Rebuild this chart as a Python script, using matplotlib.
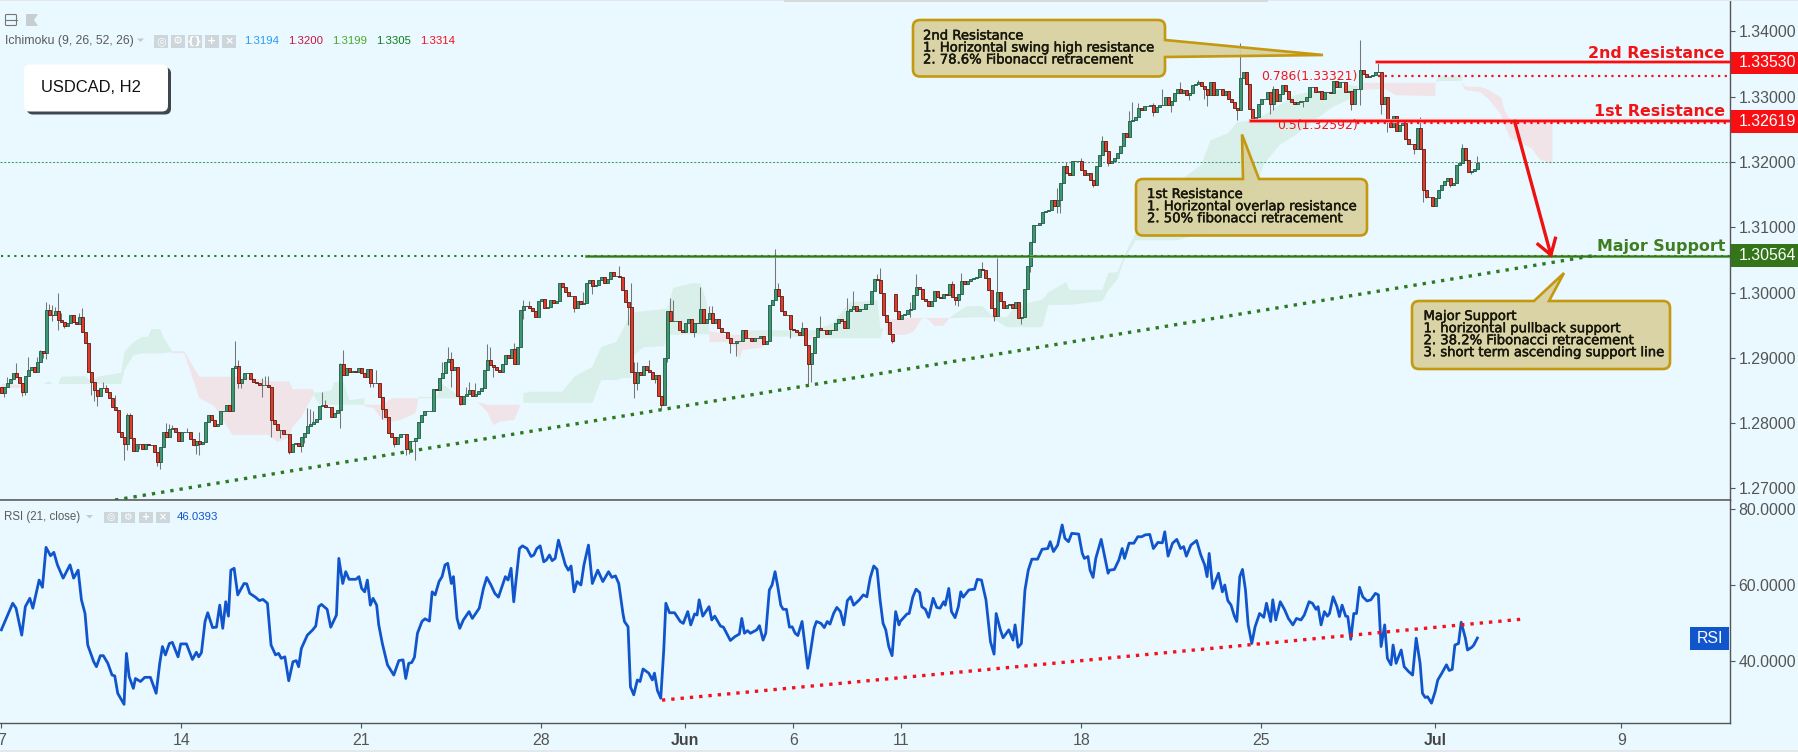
import matplotlib
matplotlib.use("Agg")
import matplotlib.pyplot as plt
import numpy as np
from matplotlib.path import Path
from matplotlib.patches import PathPatch, Rectangle, FancyBboxPatch
import matplotlib.patheffects as pe

# ---------- data (prices in pips: value / 10000) ----------
first_open = 12855
closes = [
12846,12855,12862,12868,12876,12871,12861,12848,12872,12881,12886,12878,12894,12911,12907,12973,12966,12965,12971,12958,
12955,12948,12954,12965,12955,12951,12963,12939,12922,12878,12863,12850,12842,12853,12854,12847,12839,12824,12820,12786,
12779,12768,12812,12777,12758,12768,12768,12761,12768,12767,12767,12755,12740,12763,12786,12778,12791,12792,12787,12773,
12786,12786,12786,12775,12767,12772,12768,12771,12801,12813,12805,12796,12799,12819,12819,12827,12819,12885,12888,12861,
12868,12877,12877,12868,12863,12861,12858,12858,12858,12855,12805,12798,12789,12789,12783,12784,12755,12768,12770,12765,
12779,12785,12795,12798,12801,12806,12826,12828,12825,12824,12809,12815,12820,12890,12873,12884,12879,12880,12879,12885,
12876,12871,12883,12862,12862,12862,12840,12822,12810,12785,12778,12768,12779,12783,12783,12760,12772,12772,12777,12801,
12812,12818,12818,12818,12852,12850,12869,12876,12894,12898,12881,12886,12842,12830,12841,12844,12850,12842,12845,12849,
12854,12881,12897,12889,12886,12882,12878,12891,12904,12900,12913,12891,12917,12973,12980,12979,12976,12972,12963,12987,
12990,12977,12978,12989,12984,12987,13015,13008,13001,12995,12995,12977,12987,12983,12984,13014,13019,13010,13011,13019,
13023,13015,13020,13031,13025,13025,13023,13004,12986,12978,12879,12862,12878,12873,12888,12881,12879,12868,12874,12841,
12827,12899,12972,12956,12957,12957,12942,12939,12953,12959,12940,12954,12953,12975,12954,12959,12969,12953,12959,12946,
12940,12939,12931,12922,12923,12925,12926,12943,12930,12931,12926,12931,12931,12934,12921,12926,12981,12988,13006,12994,
12972,12966,12966,12944,12943,12939,12935,12946,12920,12891,12908,12932,12946,12943,12942,12937,12943,12942,12954,12960,
12957,12946,12972,12975,12979,12971,12974,12975,12982,12982,13003,13020,13019,12999,12966,12955,12936,12926,12972,12960,
12965,12967,12973,12975,12996,13009,13005,12990,12987,12979,12987,13002,12993,12991,12997,12996,13013,12993,12989,12997,
13017,13013,13017,13020,13022,13023,13036,13034,13022,13004,12976,12964,13001,12987,12976,12981,12982,12976,12985,12961,
12963,13005,13040,13077,13103,13103,13106,13124,13125,13127,13142,13133,13142,13167,13193,13183,13180,13201,13201,13202,
13187,13180,13183,13172,13164,13193,13210,13232,13216,13199,13202,13206,13213,13224,13244,13238,13262,13264,13268,13282,
13280,13285,13285,13287,13277,13284,13287,13287,13299,13287,13294,13305,13311,13306,13310,13302,13305,13317,13320,13323,
13316,13311,13303,13322,13303,13311,13311,13302,13308,13296,13292,13283,13279,13328,13337,13319,13281,13261,13268,13288,
13296,13296,13307,13288,13311,13293,13304,13317,13308,13297,13291,13288,13291,13294,13294,13300,13314,13314,13307,13308,
13296,13307,13307,13305,13324,13314,13322,13322,13307,13309,13288,13311,13311,13340,13334,13330,13331,13333,13337,13337,
13288,13300,13263,13253,13270,13248,13256,13259,13235,13227,13227,13220,13252,13219,13157,13146,13146,13133,13144,13157,
13164,13170,13175,13164,13167,13196,13198,13221,13203,13184,13186,13189,13199]
gap_open_bar = [298]
gap_open_val = [12998]

high_bars = [2,5,9,12,13,15,16,17,18,19,20,26,27,34,35,38,42,43,55,56,57,62,66,78,79,87,88,89,
102,103,104,107,108,113,114,125,147,149,150,155,156,158,162,163,171,174,176,194,
206,210,211,212,216,223,224,233,236,237,258,259,267,273,282,284,292,293,
303,305,317,320,327,332,352,353,355,360,367,376,377,379,384,387,393,399,
403,413,424,453,459,473,487,492]
high_vals = [12870,12892,12901,12901,12912,12985,12983,12981,12978,12999,12968,12968,12976,12863,12858,12843,12816,12816,12800,12798,12797,12792,12787,12926,12897,12869,12872,12872,
12823,12821,12818,12848,12836,12892,12912,12882,12893,12917,12909,12855,12863,12862,12921,12916,12923,12988,12987,13001,
13040,13015,12894,12894,12896,12991,12988,13009,12979,12979,13067,13014,12955,12964,12991,13002,13029,13038,
12985,13029,13018,13030,13047,13053,13160,13168,13200,13206,13239,13278,13291,13290,13290,13312,13322,13326,
13323,13382,13316,13387,13351,13268,13227,13209]
low_bars = [1,7,8,14,15,17,19,21,30,31,32,41,42,44,46,52,53,65,66,79,80,87,90,93,96,
100,101,113,123,124,127,131,135,136,138,150,153,164,174,177,178,191,197,
209,211,212,218,220,222,231,243,245,263,269,270,297,
303,318,319,331,340,343,352,353,364,369,384,390,396,
401,402,412,423,424,434,450,453,460,462,471,474,475,477,483,490]
low_vals = [12840,12842,12843,12899,12898,12956,12943,12946,12843,12834,12826,12744,12759,12758,12760,12734,12730,12753,12751,12853,12853,12840,12779,12777,12752,
12755,12769,12793,12856,12856,12806,12764,12751,12753,12744,12856,12828,12871,12960,12971,12962,12970,12998,
12950,12838,12851,12862,12822,12894,12932,12907,12902,12930,12860,12863,12922,
12962,12981,12979,12956,12951,13031,13122,13122,13161,13193,13270,13277,13295,
13297,13285,13264,13273,13280,13284,13280,13287,13274,13246,13212,13139,13144,13132,13162,13182]

nan = float("nan")
red_x = [0,9,nan,57,61,64,66,71,77,82,89,92,96,97,100,104,nan,121,124,127,130,133,138,139,nan,159,162,164,166,171,173,nan,
         236,242,245,246,247,254,255,nan,269,272,nan,295,301,304,307,309,311,314,316,nan,453,461,465,478,nan,
         487,488,493,496,500,501,503,506,510,513,517]
red_top = [12860,12858,nan,12910,12910,12886,12871,12871,12871,12871,12864,12864,12864,12852,12852,12852,nan,12828,12828,12828,12838,12838,12838,12837,nan,12832,12828,12828,12828,12828,12828,nan,
         12941,12935,12935,12935,12935,12935,12927,nan,12933,12933,nan,12958,12961,12961,12961,12961,12961,12961,12961,nan,13321,13321,13321,13321,nan,
         13322,13315,13315,13310,13298,13279,13264,13261,13259,13259,13259]
red_bot = [12854,12854,nan,12907,12907,12866,12838,12826,12782,12782,12782,12771,12778,12794,12809,12843,nan,12826,12823,12805,12802,12805,12815,12837,nan,12831,12817,12797,12802,12805,12828,nan,
         12924,12924,12916,12897,12912,12916,12927,nan,12927,12933,nan,12935,12935,12940,12961,12959,12949,12949,12961,nan,13310,13312,13302,13301,nan,
         13319,13310,13307,13295,13272,13256,13236,13230,13221,13203,13197]
green_x = [14,16,17,nan,19,20,28,30,32,40,41,44,47,49,50,53,54,57,nan,104,106,110,111,114,115,116,121,nan,139,145,147,152,156,nan,
         174,177,187,188,191,197,200,205,207,210,211,214,221,222,224,230,233,235,236,nan,
         249,269,272,273,277,283,292,293,294,nan,
         316,319,322,327,330,335,338,345,347,349,355,356,367,369,372,374,378,383,392,400,403,409,412,416,419,421,426,431,437,444,449,452,nan,
         478,479,487]
green_top = [12860,12864,12860,nan,12860,12871,12872,12864,12871,12877,12909,12924,12932,12932,12944,12944,12932,12909,nan,12847,12847,12850,12863,12863,12849,12835,12838,nan,12840,12840,12860,12843,12835,nan,
         12846,12848,12848,12854,12871,12886,12917,12924,12942,12970,12970,12971,12975,12975,13007,13014,13014,12988,12945,nan,
         12942,12942,12942,12945,12953,12985,12988,12945,12945,nan,
         12961,12971,12979,12979,12965,12962,12979,12987,12989,13000,13016,13004,13004,13030,13031,13053,13091,13117,13169,13195,13233,13244,13261,13263,13266,13272,13287,13302,13308,13307,13318,13316,nan,
         13321,13331,13331]
green_bot = [12860,12860,12860,nan,12860,12860,12860,12860,12860,12860,12881,12904,12907,12907,12907,12907,12907,12909,nan,12843,12829,12828,12828,12828,12828,12828,12828,nan,12838,12838,12838,12838,12835,nan,
         12831,12831,12831,12831,12831,12831,12866,12866,12869,12869,12904,12916,12918,12935,12935,12936,12936,12936,12936,nan,
         12933,12932,12935,12930,12930,12930,12930,12930,12945,nan,
         12961,12961,12962,12962,12962,12947,12947,12947,12947,12981,12981,12981,12987,13004,13020,13047,13080,13080,13080,13091,13096,13103,13111,13122,13172,13198,13226,13240,13261,13285,13295,13310,nan,
         13321,13324,13324]

rsi_bar = [0,1.9,3.8,4.9,6.8,8,9.5,10.5,12.6,13.7,14.9,16.4,17.5,18.7,20.6,22.9,24.1,25.6,26.7,27.9,28.8,30.8,31.7,33,34,35.5,36.9,37.8,38.8,40.9,41.7,42.6,44,44.7,46.4,47.8,49.7,51.6,52.8,53.7,54.7,56,57,58.9,59.8,61.7,63.7,65,65.8,66.7,67.9,68.8,70.4,71.7,72.8,73.8,74.8,75.7,76.5,77.6,78.8,80.9,81.8,82.8,84.7,86,87.2,88.7,89.9,91.4,92.4,93.3,94.5,95.8,97.2,98.3,99.1,100,102,103.8,104.8,105.8,106.7,108.6,109.8,111.7,112.5,113.8,114.8,115.9,118.2,119.2,120.1,121.1,122,123,123.9,125.1,125.8,127,128.7,130.8,132.5,133.9,134.8,135.8,136.8,137.7,138.7,140.2,141.2,142.7,143.6,144.6,145.9,146.9,147.9,148.8,150,150.7,151.9,152.8,154,155.9,157,159.3,160.7,161.8,163.2,164.5,165.7,168,168.9,169.9,170.8,172.7,173.7,175.2,176.6,177.5,178.5,179.6,180.8,181.7,182.7,183.6,184.6,185.7,188,189,189.9,190.9,191.9,193.2,194.2,195.7,197,198.8,200.5,202.4,203.5,204.7,205.8,207.2,207.7,208.9,209.7,210.8,212,212.9,213.9,215.8,217,217.7,218.7,219.8,220.8,221.5,222.7,224.4,226.3,227.3,228.8,229.8,231.1,231.9,232.6,233.8,235.9,236.8,237.8,239.7,240.7,243,244.5,246,246.8,247.7,248.7,249.7,251.8,252.7,253.9,254.8,256,256.9,257.9,258.8,259.8,260.6,261.7,262.7,263.6,264.6,265.5,266.9,268.8,269.8,270.9,271.7,273.2,274.3,275.3,276.2,277.4,278.5,279.7,280.8,282,283.1,284.1,286,287.3,288.5,289.6,290.8,291.9,292.9,293.9,294.8,295.8,296.9,298.1,299.2,
 299.6,301.9,302.6,303.8,304.9,306.1,306.8,308,309.1,310.6,311.8,312.9,314.1,314.6,315.8,316.7,317.9,319,319.8,320.6,322.5,324.4,325.3,326.7,328.2,329.7,330.9,331.6,333,333.9,335.8,337.2,337.9,338.9,340,341.2,342.3,343.5,345.4,346.9,348.8,349.6,350.7,352.1,353.6,354.5,355.7,356.8,359.1,360.3,361,362.2,362.9,363.9,364.8,366.6,368.9,369.4,371,372.5,373.6,374.4,375.9,377.5,378.8,380.1,381.3,382.8,384,385.5,387,387.8,388.9,390.4,391.8,393.1,394.1,395,396.5,398.4,399.8,401.1,401.9,402.6,403.8,405.7,407,407.8,408.8,409.9,411,411.8,412.8,413.7,414.7,415.6,416.8,417.9,419.4,420.8,421.7,423.1,423.8,424.8,426.3,427.8,429,430.5,431.7,433.2,434.3,435.9,437,438.2,438.9,439.9,441,442,442.7,443.9,445.2,446,446.9,448.1,448.8,449.8,450.8,451.7,452.7,453.8,455.2,456.5,458,459,459.9,461.1,462,463.2,463.9,464.9,466.6,467.6,469.1,470.4,471.6,472.9,473.7,474.6,475.4,476.7,477.9,478.8,480,481.7,482.6,483.6,484.5,485.7,486.6,488,488.7,490.1,490.8,492]
rsi_val = [48.2,51.7,55.2,53.9,46.8,54.3,56.5,53.9,61.3,59.4,69.9,67.7,68.6,65.3,61.8,65.3,61.8,63.9,56.1,52.5,44.2,39.8,38.5,41.4,41.4,39.4,36.3,36.1,31.5,28.6,42,35.9,32.8,35.4,34.6,35.7,35.7,31.5,39.4,43.8,41.6,44.6,44.9,41.1,44.5,44.5,40.4,42.3,41.1,42.2,50.4,52.7,48.8,48.9,54.7,48.6,55.6,51.8,63.9,64.4,57.4,60.4,60.3,57.8,56.8,55.9,56.2,55.2,44.2,41.6,42,40.7,41.1,34.8,39.8,40.1,38.5,43.3,46.8,48.2,49.2,54.3,54.9,53.6,48.9,52.1,67,60.4,63.5,61.5,61.5,62.2,59.1,58.2,61.3,54.7,56.5,54.7,49.5,44.6,39,36.3,40.1,40.3,35.4,39.4,39.6,41,47.3,50.4,51.1,50.5,58.2,57.4,60.9,62.2,65.3,65.7,60.4,62.2,51.2,48.6,50.8,53,51.2,53.9,59.1,62,60,57.8,56.8,62.2,61.3,64.4,55.6,69.6,70.3,69.6,67.5,67.9,69.6,70.3,66.1,66.6,67.9,66.4,67,71.8,65.3,63.9,65,58.2,60.9,60,65.3,70.5,60.4,63.9,60.9,63.5,62,62.4,60.4,52.5,50.4,49,33.2,31.1,35,34.6,37.9,36.8,35,36.8,32.2,30.2,42.9,55.2,52.7,52.7,50.4,49.9,53,49.5,52.4,52.1,56.1,51.8,54.3,50.8,51.8,49.2,48.9,45.4,46.4,47.1,51.2,47.3,48,47.3,48.2,49.3,45.5,47.3,58.7,60,63.5,59.6,54.7,53.6,53.6,48.9,49,47.3,46.7,50.4,38.1,42.9,48.6,50.4,49.9,48.8,50.4,49.7,52.5,54.1,53,49.5,55.9,56.9,54.7,56.1,57.4,56.9,61.8,65,64.1,56.1,49.9,48.2,43.8,41.4,53,49.5,
 50.4,52.4,52.5,56.8,58.9,58,54.3,53.6,51.5,56.5,54.1,53.9,55.6,54.7,59.1,53,51.4,54.3,58.2,56.8,58.7,58.9,61.5,61.3,56.1,45.1,41.8,52.5,48.2,46.1,48.2,45.5,49.5,43.6,44.6,58.7,63.9,66.8,66.8,69.4,69.6,71.4,68.8,70.5,75.8,72.3,71.4,73.6,73.4,68.3,67,67.5,63.9,62,67,72,63.1,63.9,64.1,66.6,69.6,67,71,71,72.7,72.7,73.2,73.3,69.6,71.2,71.1,74,67.6,71,72,69.6,70.1,67.6,70.5,71.7,67.9,65.3,62.2,68.3,59.1,63.1,58.2,60,55.9,54.7,51.8,50.4,62.2,64.1,58.7,49.5,44.6,49,52.5,51.5,55.2,50.4,56.1,50.8,55.6,53.4,51.2,49.5,51.2,50.8,52.1,55.6,55.2,53.6,54.3,49.5,53,51.8,52.5,56.9,54.3,51.7,54.7,51.8,51.7,45.7,52.5,52.5,59.4,56.9,55.8,56.1,57.8,57.4,43.8,49.5,40.7,39,44.2,39.4,42.9,38.5,37.2,36.3,46,39.4,31.5,30.4,30.6,28.9,31.9,35,36.6,39,37.5,37.8,44.2,44.6,50.2,46,42.9,43.6,44.2,46.04]

price_ticks = [1.27,1.28,1.29,1.30,1.31,1.32,1.33,1.34]
rsi_ticks = [40,60,80]
date_bars = [0,60,120,180,228,264,300,360,420,478,540]
date_labels = ["7","14","21","28","Jun","6","11","18","25","Jul","9"]
res2, res1, sup = 1.33530, 1.32619, 1.30564
fib786, fib50 = 1.33321, 1.32592
last_price = 1.3200
legend_vals = ["1.3194","1.3200","1.3199","1.3305","1.3314"]
legend_cols = ["#2a9bf5","#c2173f","#4ba62c","#0b7d18","#f5101f"]

# ---------- figure ----------
W, H = 1798, 752
BG = "#e9f9ff"
plt.rcParams["font.family"] = ["Liberation Sans", "DejaVu Sans"]
fig = plt.figure(figsize=(W/100, H/100), dpi=100, facecolor=BG)
AXR = 1730
GRY = "#555555"
ax = fig.add_axes([0, 1-500/H, AXR/W, 500/H], facecolor=BG)
rx = fig.add_axes([0, 1-723/H, AXR/W, 223/H], facecolor=BG, sharex=ax)
ax.set_xlim(-0.443, 576.2)
ax.set_ylim(1.34-(500-31.3)/6530, 1.34+31.3/6530)
rx.set_ylim(80-(723-509)/3.8, 80+9/3.8)

for a in (ax, rx):
    for s in ("left", "top"):
        a.spines[s].set_visible(False)
    for s in ("right", "bottom"):
        a.spines[s].set_color(GRY); a.spines[s].set_linewidth(1.0)
    a.yaxis.tick_right()
    a.tick_params(axis="y", length=3.5, color=GRY, labelcolor=GRY, labelsize=11.4, pad=2.5, width=0.8)
ax.set_yticks(price_ticks); ax.set_yticklabels([f"{t:.5f}" for t in price_ticks])
rx.set_yticks(rsi_ticks); rx.set_yticklabels([f"{t:.4f}" for t in rsi_ticks])
ax.tick_params(axis="x", length=0, labelbottom=False)
rx.set_xticks(date_bars); rx.set_xticklabels(date_labels)
rx.tick_params(axis="x", length=3.5, color=GRY, labelcolor=GRY, labelsize=11.4, pad=3.5, width=0.8)
for lab in rx.get_xticklabels():
    if lab.get_text() in ("Jun", "Jul"):
        lab.set_fontweight("bold"); lab.set_color("#444444")
ax.set_xlim(-0.443, 576.2)

# cloud
gx, gt, gb = np.array(green_x), np.array(green_top)/1e4, np.array(green_bot)/1e4
ax.fill_between(gx, gt, gb, where=~np.isnan(gx), color="#d8f0e9", lw=0, zorder=1)
rxx, rt, rb = np.array(red_x), np.array(red_top)/1e4, np.array(red_bot)/1e4
ax.fill_between(rxx, rt, rb, where=~np.isnan(rxx), color="#f0e4e9", lw=0, zorder=1)

# last-price line
ax.axhline(last_price, color="#3f9a70", lw=0.75, ls=(0, (2, 1.6)), zorder=2)

# candles
c = np.array(closes)/1e4
o = np.r_[first_open/1e4, c[:-1]]
for b, v in zip(gap_open_bar, gap_open_val):
    o[b] = v/1e4
bars = np.arange(len(c))
ax.vlines(high_bars, c[high_bars], np.array(high_vals)/1e4, color="#767676", lw=0.75, zorder=3)
ax.vlines(low_bars, c[low_bars], np.array(low_vals)/1e4, color="#767676", lw=0.75, zorder=3)
up = c >= o
ax.bar(bars[up], (c-o)[up], bottom=o[up], width=0.8, color="#3f9672", edgecolor="#1f5c42", lw=0.62, zorder=4)
ax.bar(bars[~up], (c-o)[~up], bottom=o[~up], width=0.8, color="#e03c2c", edgecolor="#5e1c14", lw=0.62, zorder=4)

# levels and trend lines
DG = "#2f7a1c"
ax.plot([0, 576.2], [sup, sup], color=DG, lw=1.5, ls=(0, (1, 2.2)), zorder=5)
ax.plot([195, 576.2], [sup, sup], color="#7fb06a", lw=2.2, zorder=4.5)
ax.plot([195, 576.2], [sup, sup], color=DG, lw=1.0, zorder=4.6)
ax.plot([37.9, 530.6], [1.26822, sup], color=DG, lw=2.4, ls=(0, (1, 1.8)), zorder=5)
ax.plot([416.7, 576.2], [res1, res1], color="#ff9a9a", lw=3, zorder=5)
ax.plot([416.7, 576.2], [res1, res1], color="#f50f14", lw=1.6, zorder=5.1)
ax.plot([458.4, 576.2], [res2, res2], color="#ff9a9a", lw=2.6, zorder=5)
ax.plot([458.4, 576.2], [res2, res2], color="#f50f14", lw=1.6, zorder=5.1)
ax.plot([459, 576.2], [fib786, fib786], color="#f5141c", lw=1.6, ls=(0, (1, 2.0)), zorder=5)
ax.plot([452, 576.2], [fib50, fib50], color="#f5141c", lw=1.6, ls=(0, (1, 2.0)), zorder=5)

# arrow
ARR = "#ee1111"
ax.plot([504.4, 516.5], [res1, 1.30576], color=ARR, lw=2.4, zorder=6)
ax.plot([512.2, 516.5, 518], [1.30738, 1.30576, 1.30830], color=ARR, lw=2.4, zorder=6, solid_joinstyle="miter")

# RSI
rx.plot(rsi_bar, rsi_val, color="#1155cc", lw=2.0, solid_joinstyle="round", zorder=4)
rx.plot([220.2, 506.7], [29.7, 51.0], color="#f5101a", lw=2.4, ls=(0, (1, 1.8)), zorder=5)

# ---------- overlay, in pixels ----------
ov = fig.add_axes([0, 0, 1, 1], facecolor="none", zorder=10)
ov.set_xlim(0, W); ov.set_ylim(H, 0); ov.axis("off")
ov.plot([0, AXR], [500, 500], color=GRY, lw=1.1)

def callout(x0, y0, x1, y1, tail, side, r=7):
    """Rounded box with a pointer leaving one edge."""
    V = [(x0+r, y0)]; C = [Path.MOVETO]
    if side == "top":
        for p in tail:
            V.append(p); C.append(Path.LINETO)
    V += [(x1-r, y0), (x1, y0), (x1, y0+r)]; C += [Path.LINETO, Path.CURVE3, Path.CURVE3]
    if side == "right":
        for p in tail:
            V.append(p); C.append(Path.LINETO)
    V += [(x1, y1-r), (x1, y1), (x1-r, y1), (x0+r, y1), (x0, y1), (x0, y1-r), (x0, y0+r), (x0, y0), (x0+r, y0)]
    C += [Path.LINETO, Path.CURVE3, Path.CURVE3, Path.LINETO, Path.CURVE3, Path.CURVE3, Path.LINETO, Path.CURVE3, Path.CURVE3]
    ov.add_patch(PathPatch(Path(V, C), facecolor=(0.847, 0.82, 0.62, 0.93), edgecolor="#c4980f", lw=1.9, joinstyle="miter"))

def note(x, ys, lines):
    for y, t in zip(ys, lines):
        ov.text(x, y, t, family="DejaVu Sans", fontsize=9.5, color="#17170c", va="center", ha="left",
                path_effects=[pe.withStroke(linewidth=0.35, foreground="#17170c")])

callout(913, 20, 1165, 76.5, [(1165, 40), (1323, 55), (1165, 57)], "right")
note(923, [36, 48, 60], ["2nd Resistance", "1. Horizontal swing high resistance", "2. 78.6% Fibonacci retracement"])
callout(1136, 179, 1367, 235.5, [(1243, 179), (1242, 134.5), (1259, 179)], "top")
note(1147, [194.5, 206.7, 218.7], ["1st Resistance", "1. Horizontal overlap resistance", "2. 50% fibonacci retracement"])
callout(1412, 301, 1670, 369, [(1534, 301), (1564, 273), (1549, 301)], "top")
note(1423.5, [316.5, 328.7, 340.7, 352.7], ["Major Support", "1. horizontal pullback support", "2. 38.2% Fibonacci retracement", "3. short term ascending support line"])

# labels on the levels
def level_label(y, t, col):
    ov.text(1725, y, t, family="DejaVu Sans", fontweight="bold", fontsize=11.45, color=col, ha="right", va="center")
level_label(53, "2nd Resistance", "#f01414")
level_label(112, "1st Resistance", "#f01414")
level_label(246.5, "Major Support", "#3f7d20")
for y0, y1, col, t in [(51.7, 74, "#f80f14", "1.33530"), (110, 132.5, "#f80f14", "1.32619"), (244, 266.5, "#35751a", "1.30564")]:
    ov.add_patch(Rectangle((1731, y0), 67, y1-y0, facecolor=col, edgecolor="none"))
    ov.text(1738.5, (y0+y1)/2, t, color="white", fontsize=11.4, ha="left", va="center")
ov.text(1358, 76.5, "0.786(1.33321)", family="DejaVu Sans", color="#f5141c", fontsize=8.9, ha="right", va="center")
ov.text(1358, 125, "0.5(1.32592)", family="DejaVu Sans", color="#f5141c", fontsize=8.9, ha="right", va="center")
ov.add_patch(Rectangle((1690, 627), 39, 23, facecolor="#1155cc", edgecolor="none"))
ov.text(1709.5, 638.5, "RSI", color="white", fontsize=11.4, ha="center", va="center")

# symbol box
ov.add_patch(FancyBboxPatch((27, 67.5), 144, 47, boxstyle="round,pad=0,rounding_size=6", facecolor="#2b3338", edgecolor="none", alpha=0.9))
ov.add_patch(FancyBboxPatch((24, 64.5), 144, 47, boxstyle="round,pad=0,rounding_size=6", facecolor="white", edgecolor="none"))
ov.text(91, 88, "USDCAD, H2", color="#111111", fontsize=11.9, ha="center", va="center")

# legends
LG = "#5b5b5b"
ov.add_patch(FancyBboxPatch((5.5, 14.5), 11, 11, boxstyle="round,pad=0,rounding_size=1", facecolor="none", edgecolor="#777777", lw=0.8))
ov.plot([5.5, 16.5], [20, 20], color="#777777", lw=0.8)
ov.fill([26, 38, 34, 38, 26], [14, 14, 20, 26, 26], color="#c6ced2", lw=0)
ov.text(5, 41, "Ichimoku (9, 26, 52, 26)", color=LG, fontsize=8.8, ha="left", va="center")
ov.fill([137, 144, 140.5], [38.5, 38.5, 42], color="#c3cbcf", lw=0)
for x, t in zip([154, 171, 188, 205, 222], ["◎", "⚙", "{}", "+", "×"]):
    ov.add_patch(Rectangle((x, 35), 14, 13, facecolor="#cdd6da", edgecolor="none"))
    ov.text(x+7, 41.3, t, family="DejaVu Sans", color="white", fontsize=8, fontweight="bold", ha="center", va="center")
for x, t, col in zip([244, 288, 332, 376, 420], legend_vals, legend_cols):
    ov.text(x, 41, t, color=col, fontsize=8.2, ha="left", va="center")
ov.text(4.5, 517, "RSI (21, close)", color=LG, fontsize=8.3, ha="left", va="center")
ov.fill([86, 93, 89.5], [515, 515, 518.5], color="#c3cbcf", lw=0)
for x, t in zip([104, 120.5, 139, 155.5], ["◎", "⚙", "+", "×"]):
    ov.add_patch(Rectangle((x, 512), 14, 11, facecolor="#cdd6da", edgecolor="none"))
    ov.text(x+7, 517.3, t, family="DejaVu Sans", color="white", fontsize=7, fontweight="bold", ha="center", va="center")
ov.text(177, 517.5, "46.0393", color="#1155cc", fontsize=8.2, ha="left", va="center")

# canvas edges
ov.add_patch(Rectangle((0, 0), W, 1.3, facecolor="#e4e8ea", edgecolor="none"))
ov.add_patch(Rectangle((784, 0), 484, 2.4, facecolor="#d6dadd", edgecolor="none"))
ov.add_patch(Rectangle((0, 750), W, 2, facecolor="#e4e8ea", edgecolor="none"))

fig.savefig("out.png", dpi=100, facecolor=BG)
